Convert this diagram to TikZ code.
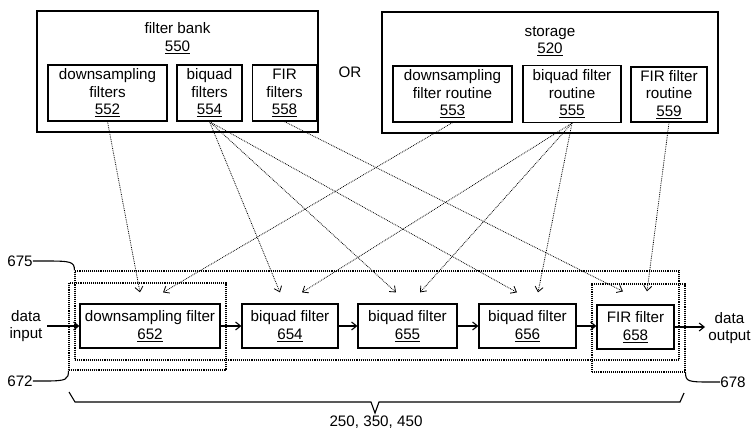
\documentclass[tikz,border=0pt]{standalone}
\usepackage{fontspec}
\setmainfont{Liberation Sans}
\usetikzlibrary{arrows.meta,calc}
\begin{document}
\begin{tikzpicture}[x=1pt,y=-1pt,
  txt/.style={inner sep=0pt, align=center, font=\fontsize{15.2}{17.5}\selectfont},
  box/.style={txt, draw, line width=1.2pt},
  outerbox/.style={draw, line width=1.4pt, inner sep=0pt},
  dotbox/.style={draw, densely dotted, line width=1.1pt, inner sep=0pt},
  link/.style={densely dotted, line width=0.8pt, -{Straight Barb[length=5pt,width=8pt]}},
  flow/.style={line width=1.1pt, -{Straight Barb[length=5pt,width=8pt]}},
  leader/.style={line width=1.1pt}]
\useasboundingbox (0,0) rectangle (752,429);

% upper groups
\node[outerbox, minimum width=281, minimum height=121] (g550) at (177.5,71.5) {};
\node[txt] (t550) at (177.5,38) {filter bank\\\underline{550}};
\node[outerbox, minimum width=336, minimum height=121] (g520) at (550,72.5) {};
\node[txt] (t520) at (550,41) {storage\\\underline{520}};
\node[txt] (or) at (350,72) {OR};

\node[box, minimum width=119, minimum height=56] (b552) at (107.5,93) {downsampling\\filters\\\underline{552}};
\node[box, minimum width=65, minimum height=56] (b554) at (209.5,93) {biquad\\filters\\\underline{554}};
\node[box, minimum width=64, minimum height=56] (b558) at (284.5,93) {FIR\\filters\\\underline{558}};
\node[box, minimum width=119, minimum height=56] (b553) at (452.5,94) {downsampling\\filter routine\\\underline{553}};
\node[box, minimum width=98, minimum height=57] (b555) at (572,94) {biquad filter\\routine\\\underline{555}};
\node[box, minimum width=76, minimum height=55] (b559) at (669,94.5) {FIR filter\\routine\\\underline{559}};

% processing chain
\node[box, minimum width=140, minimum height=44] (b652) at (150,326) {downsampling filter\\\underline{652}};
\node[box, minimum width=96, minimum height=44] (b654) at (290,326) {biquad filter\\\underline{654}};
\node[box, minimum width=99, minimum height=44] (b655) at (407.5,326) {biquad filter\\\underline{655}};
\node[box, minimum width=97, minimum height=44] (b656) at (527.5,326) {biquad filter\\\underline{656}};
\node[box, minimum width=77, minimum height=44] (b658) at (635.5,327) {FIR filter\\\underline{658}};

\node[txt] (din) at (26,326) {data\\input};
\node[txt] (dout) at (729.5,328) {data\\output};
\coordinate (inA) at (47,326);
\coordinate (outB) at (705,327);
\draw[flow] (inA) -- (b652.west);
\draw[flow] (b652) -- (b654);
\draw[flow] (b654) -- (b655);
\draw[flow] (b655) -- (b656);
\draw[flow] (b656.east) -- (b658.west |- b656.east);
\draw[flow] (b658.east) -- (outB);

% dotted groups
\node[dotbox, minimum width=604, minimum height=89] (g675) at (377,315.5) {};
\node[dotbox, minimum width=157, minimum height=87] (g672) at (147.5,326.5) {};
\node[dotbox, minimum width=93, minimum height=88] (g678) at (638.5,328) {};

\node[txt] (l675) at (20,261) {675};
\node[txt] (l672) at (20,381) {672};
\node[txt] (l678) at (733,382) {678};
\draw[leader] (l675.east) -- ++(12,0) .. controls +(26,0) and +(0,-9) .. (g675.north west);
\draw[leader] (l672.east) -- ++(12,0) .. controls +(22,0) and +(0,9) .. (g672.south west);
\draw[leader] (l678.west) -- ++(-10,0) .. controls +(-22,0) and +(0,9) .. (g678.south east);

% brace
\coordinate (brL) at (69,392);
\coordinate (brR) at (684,393);
\coordinate (brT) at (375,413);
\draw[line width=1.1pt] (brL) -- (75,402) -- (371,402) -- (brT) -- (379,402) -- (680,402) -- (brR);
\node[txt] (lbr) at (376,422) {250, 350, 450};

% targets
\coordinate (t652a) at ($(b652.north)+(-10,-11)$);
\coordinate (t652b) at ($(b652.north)+(13,-11)$);
\coordinate (t654a) at ($(b654.north)+(-10,-11)$);
\coordinate (t654b) at ($(b654.north)+(12,-11)$);
\coordinate (t655a) at ($(b655.north)+(-11.5,-11)$);
\coordinate (t655b) at ($(b655.north)+(12.5,-11)$);
\coordinate (t656a) at ($(b656.north)+(-10.5,-11)$);
\coordinate (t656b) at ($(b656.north)+(10.5,-11)$);
\coordinate (t658a) at ($(b658.north)+(-12.5,-13)$);
\coordinate (t658b) at ($(b658.north)+(11.5,-13)$);

\draw[link] (b552.south) -- (t652a);
\draw[link] (b553.south) -- (t652b);
\draw[link] (b554.south) -- (t654a);
\draw[link] (b554.south) -- (t655a);
\draw[link] (b554.south) -- (t656a);
\draw[link] (b555.south) -- (t654b);
\draw[link] (b555.south) -- (t655b);
\draw[link] (b555.south) -- (t656b);
\draw[link] (b558.south) -- (t658a);
\draw[link] (b559.south) -- (t658b);
\end{tikzpicture}
\end{document}
